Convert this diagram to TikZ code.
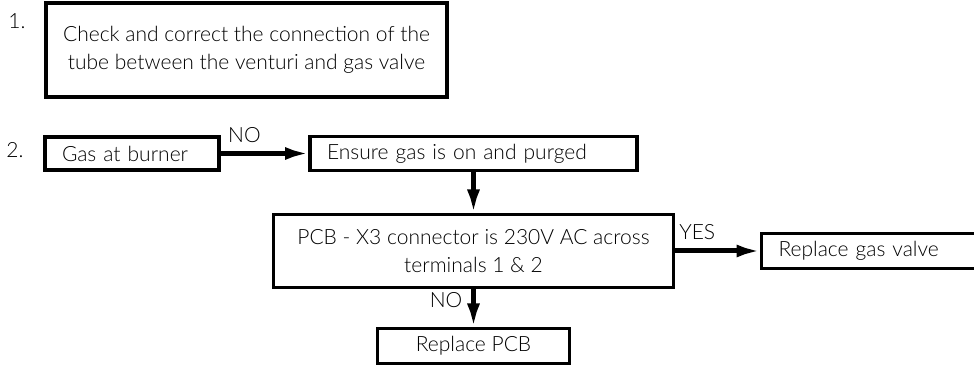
\documentclass[tikz,border=0pt]{standalone}
\usepackage{fontspec}
\setmainfont{Lato Light}
\usetikzlibrary{arrows.meta, positioning}

\begin{document}
\begin{tikzpicture}[
    x=0.5pt, y=-0.5pt,
    font=\fontsize{10.5pt}{14pt}\selectfont,
    box/.style={draw, line width=1.7pt, outer sep=0pt, inner xsep=8.5pt, inner ysep=0pt},
    lbox/.style={box, align=left},
    cbox/.style={box, align=center},
    arr/.style={line width=2.5pt, -{Latex[length=12.5pt, width=6.5pt]}}
]
\useasboundingbox (0,0) rectangle (974,367);

% Step numbers
\node (n1) at (17,21) {1.};
\node (n2) at (15,150) {2.};

% Step 1
\node[cbox, minimum width=200.5pt, minimum height=47pt] (check) at (246.5,50)
    {Check and correct the connection of the\\tube between the venturi and gas valve};

% Step 2
\node[lbox, text width=70pt, minimum height=16.5pt] (gas) at (132,153.5) {Gas at burner};
\node[lbox, text width=146.5pt, minimum height=17pt, right=45.5pt of gas] (ensure) {Ensure gas is on and purged};
\node[cbox, minimum width=200pt, minimum height=36.5pt, below=22pt of ensure] (pcb)
    {PCB - X3 connector is 230V AC across\\terminals 1 \& 2};
\node[lbox, text width=200pt, minimum height=17.5pt, right=44pt of pcb] (valve) {Replace gas valve};
\node[cbox, minimum width=96pt, minimum height=17.5pt, below=20.5pt of pcb] (newpcb) {Replace PCB};

% Arrows
\draw[arr] (gas) -- node[pos=0.28, above=1pt] {NO} (ensure);
\draw[arr] (ensure) -- (pcb);
\draw[arr] (pcb) -- node[pos=0.27, above=1pt] {YES} (valve);
\draw[arr] (pcb) -- node[pos=0.3, left=1pt] {NO} (newpcb);

\end{tikzpicture}
\end{document}
